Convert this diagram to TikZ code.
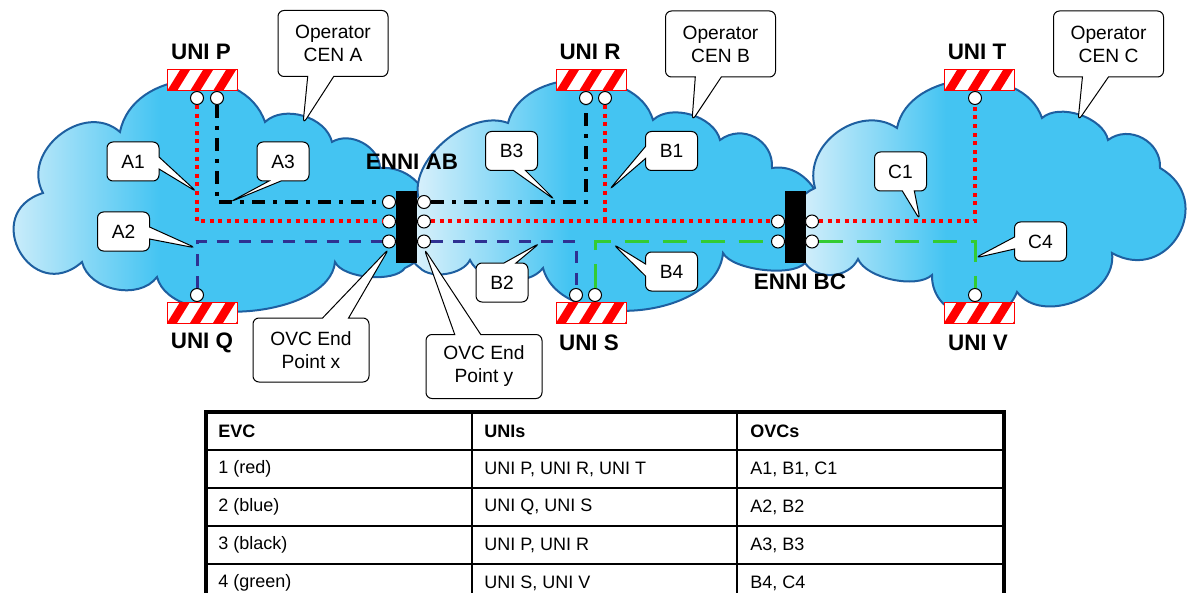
\documentclass[tikz,border=0pt]{standalone}
\usepackage{fontspec}
\setmainfont{Liberation Sans}
\usepackage{tikz}
\usetikzlibrary{shapes,arrows,positioning,calc}

\definecolor{cloudblue}{RGB}{68,196,242}
\definecolor{cloudlight}{RGB}{232,245,252}
\definecolor{cloudline}{RGB}{30,95,160}
\definecolor{evcblue}{RGB}{46,49,146}
\definecolor{evcgreen}{RGB}{51,204,51}

\pgfdeclarehorizontalshading{cloudfade}{100bp}{color(0bp)=(cloudlight); color(25bp)=(cloudlight); color(44bp)=(cloudblue); color(100bp)=(cloudblue)}

\tikzset{
	cen/.style={draw=cloudline, line width=1pt, shading=cloudfade},
	unibox/.style={draw=red, fill=white, line width=0.5pt, minimum width=35pt, minimum height=10.5pt, inner sep=0pt,
		path picture={\foreach \k in {-1,...,3}
			\fill[red] ($(path picture bounding box.south west)+(\k*11.5pt,0pt)$) -- ++(5pt,0pt) -- ++(6.5pt,10.5pt) -- ++(-5pt,0pt) -- cycle;}},
	endpt/.style={circle, draw, fill=white, line width=0.5pt, minimum size=6.5pt, inner sep=0pt},
	enni/.style={fill=black, minimum width=10.5pt, minimum height=36pt, inner sep=0pt},
	unilabel/.style={font=\fontsize{11.2}{13}\selectfont\bfseries},
	tag/.style={rectangle callout, draw, fill=white, rounded corners=3pt, line width=0.5pt,
		minimum width=26pt, minimum height=19.5pt, inner sep=1pt, callout pointer width=6pt,
		font=\fontsize{9.6}{11}\selectfont},
	bigtag/.style={tag, align=center, minimum width=55pt, minimum height=33pt, callout pointer width=13pt,
		font=\fontsize{9.6}{11.5}\selectfont},
	redline/.style={red, line width=2pt, dash pattern=on 2pt off 2.3pt},
	blackline/.style={black, line width=1.8pt, dash pattern=on 6.5pt off 4pt on 2pt off 4pt},
	blueline/.style={evcblue, line width=1.5pt, dash pattern=on 6pt off 5pt},
	greenline/.style={evcgreen, line width=1.5pt, dash pattern=on 12pt off 7pt},
	cell/.style={anchor=west, inner sep=0pt, font=\fontsize{9}{11}\selectfont},
}

\begin{document}
\begin{tikzpicture}[x=0.5pt, y=-0.5pt]
	\useasboundingbox (0,0) rectangle (1187,593);

	% clouds (A, then B and C on top)
	\path[cen] (43,193) to[bend left=80, looseness=1.24] (120,132) to[bend left=75, looseness=1.14] (265,122)
		to[bend left=60, looseness=0.95] (332,142) to[bend left=60, looseness=1.0] (380,168)
		to[bend left=80, looseness=1.34] (405,268) to[bend left=60, looseness=0.67] (335,262)
		to[bend left=80, looseness=0.81] (157,277) to[bend left=65, looseness=0.99] (82,262)
		to[bend left=102, looseness=2.16] (43,193) -- cycle;
	\path[cen] (418,196) to[bend left=60, looseness=0.88] (508,123) to[bend left=75, looseness=1.02] (653,120)
		to[bend left=60, looseness=0.9] (720,140) to[bend left=65, looseness=1.21] (772,168)
		to[bend left=80, looseness=1.21] (805,263) to[bend left=55, looseness=0.6] (723,253)
		to[bend left=80, looseness=0.96] (543,268) to[bend left=60, looseness=0.86] (470,260)
		to[bend left=55, looseness=0.82] (420,268) to[bend left=55, looseness=0.81] (418,196) -- cycle;
	\path[cen] (815,188) to[bend left=70, looseness=1.14] (897,128) to[bend left=75, looseness=1.05] (1042,118)
		to[bend left=60, looseness=0.85] (1108,140) to[bend left=65, looseness=1.15] (1160,168)
		to[bend left=90, looseness=1.71] (1112,253) to[bend left=75, looseness=1.06] (1017,292)
		to[bend left=80, looseness=1.35] (932,275) to[bend left=55, looseness=0.71] (858,259)
		to[bend left=60, looseness=1.04] (805,263) to[bend left=60, looseness=1.04] (815,188) -- cycle;

	% UNIs
	\node[unibox] (uniP) at (202,80.5) {};
	\node[unibox] (uniR) at (591,80.5) {};
	\node[unibox] (uniT) at (979,80.5) {};
	\node[unibox] (uniQ) at (202,312.5) {};
	\node[unibox] (uniS) at (591,312.5) {};
	\node[unibox] (uniV) at (979,312.5) {};
	\node[unilabel] (lblP) at (201,52) {UNI P};
	\node[unilabel] (lblR) at (590,52) {UNI R};
	\node[unilabel] (lblT) at (977,52) {UNI T};
	\node[unilabel] (lblQ) at (202,343) {UNI Q};
	\node[unilabel] (lblS) at (589,343) {UNI S};
	\node[unilabel] (lblV) at (978,343) {UNI V};

	% ENNIs
	\node[enni] (enniAB) at (406.5,227) {};
	\node[enni] (enniBC) at (795.5,227) {};
	\node[unilabel] (lblAB) at (412,162) {ENNI AB};
	\node[unilabel] (lblBC) at (800,282) {ENNI BC};

	% end points
	\node[endpt] (pP1) at (197,98) {};
	\node[endpt] (pP2) at (217,98) {};
	\node[endpt] (pR1) at (586,98) {};
	\node[endpt] (pR2) at (605,98) {};
	\node[endpt] (pT) at (975,98) {};
	\node[endpt] (pQ) at (197,295) {};
	\node[endpt] (pS1) at (576,295) {};
	\node[endpt] (pS2) at (595,295) {};
	\node[endpt] (pV) at (975,295) {};
	\node[endpt] (abL1) at (389,202) {};
	\node[endpt] (abL2) at (389,221.5) {};
	\node[endpt] (abL3) at (389,241.5) {};
	\node[endpt] (abR1) at (424,202) {};
	\node[endpt] (abR2) at (424,221.5) {};
	\node[endpt] (abR3) at (424,241.5) {};
	\node[endpt] (bcL1) at (778,221.5) {};
	\node[endpt] (bcL2) at (778,241.5) {};
	\node[endpt] (bcR1) at (812,221.5) {};
	\node[endpt] (bcR2) at (812,241.5) {};

	% EVCs
	\coordinate (jR) at (pR2 |- abR2);
	\draw[redline] (pP1) |- (abL2);
	\draw[redline] (abR2) -- (bcL1);
	\draw[redline] (pR2) -- (jR);
	\draw[redline] (bcR1) -| (pT);
	\draw[blackline] (pP2) |- (abL1);
	\draw[blackline] (abR1) -| (pR1);
	\draw[blueline] (pQ) |- (abL3);
	\draw[blueline] (abR3) -| (pS1);
	\draw[greenline] (pS2) |- (bcL2);
	\draw[greenline] (bcR2) -| (pV);

	% callouts
	\node[bigtag, callout absolute pointer={(303,124)}] (opA) at (333,43.5) {Operator\\CEN A};
	\node[bigtag, callout absolute pointer={(692,121)}] (opB) at (720.5,44) {Operator\\CEN B};
	\node[bigtag, callout absolute pointer={(1078,121)}] (opC) at (1108.5,44) {Operator\\CEN C};
	\node[tag, callout absolute pointer={(197,192)}] (tagA1) at (133,161.5) {A1};
	\node[tag, callout absolute pointer={(230,202)}] (tagA3) at (283,161.5) {A3};
	\node[tag, callout absolute pointer={(196,248)}] (tagA2) at (123.5,231.5) {A2};
	\node[tag, callout absolute pointer={(555,200)}] (tagB3) at (511.5,151) {B3};
	\node[tag, callout absolute pointer={(609,190)}] (tagB1) at (671.5,151) {B1};
	\node[tag, callout absolute pointer={(540,243)}] (tagB2) at (502,282.5) {B2};
	\node[tag, callout absolute pointer={(613,244)}] (tagB4) at (671.5,271.5) {B4};
	\node[tag, callout absolute pointer={(920,220)}] (tagC1) at (900.5,171.5) {C1};
	\node[tag, callout absolute pointer={(975,258)}] (tagC4) at (1040.5,241.5) {C4};
	\node[bigtag, minimum width=58pt, minimum height=32pt, callout absolute pointer={(abL3.south)}] (ovcX) at (311,350) {OVC End\\Point x};
	\node[bigtag, minimum width=58pt, minimum height=32pt, callout absolute pointer={(abR3.south)}] (ovcY) at (484,366.5) {OVC End\\Point y};

	% table
	\draw[line width=0.8pt] (472,412) -- (472,602) (737,412) -- (737,602);
	\foreach \y in {450,488,526,564}
		\draw[line width=0.8pt] (206,\y) -- (1004,\y);
	\draw[line width=1.6pt] (206,412) rectangle (1004,602);
	\node[cell, font=\fontsize{9}{11}\selectfont\bfseries] (hEVC) at (218,431) {EVC};
	\node[cell, font=\fontsize{9}{11}\selectfont\bfseries] (hUNI) at (484,431) {UNIs};
	\node[cell, font=\fontsize{9}{11}\selectfont\bfseries] (hOVC) at (750,431) {OVCs};
	\foreach \r/\e/\u/\o in {1/{1 (red)}/{UNI P, UNI R, UNI T}/{A1, B1, C1},
			2/{2 (blue)}/{UNI Q, UNI S}/{A2, B2},
			3/{3 (black)}/{UNI P, UNI R}/{A3, B3},
			4/{4 (green)}/{UNI S, UNI V}/{B4, C4}} {
		\node[cell] (evc\r) at (218,431+38*\r) {\e};
		\node[cell] (uni\r) at (484,431+38*\r) {\u};
		\node[cell] (ovc\r) at (750,431+38*\r) {\o};
	}
\end{tikzpicture}
\end{document}
